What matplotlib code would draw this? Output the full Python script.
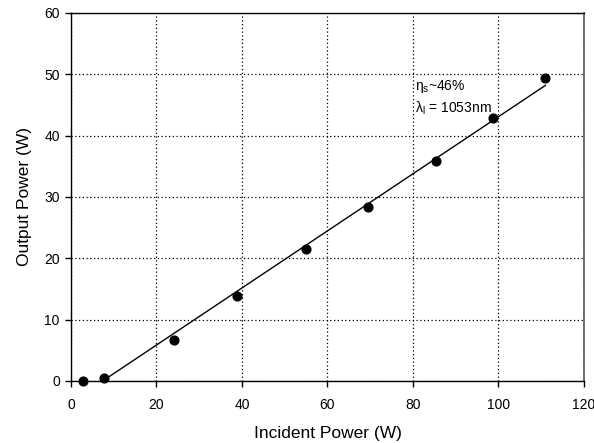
import numpy as np
from matplotlib import pyplot as plt

plt.rcParams["font.family"] = ["Liberation Sans", "DejaVu Sans"]

# measured points
incident_power = [2.8, 7.7, 24.1, 38.8, 55.0, 69.5, 85.4, 98.7, 110.9]
output_power = [0.0, 0.5, 6.7, 13.8, 21.5, 28.3, 35.8, 42.9, 49.4]

# linear fit drawn on the chart
fit_x = [8.7, 111.0]
fit_y = [0.6, 48.2]

x_ticks = [0, 20, 40, 60, 80, 100, 120]
y_ticks = [0, 10, 20, 30, 40, 50, 60]

fig = plt.figure(figsize=(5.94, 4.43), dpi=100)
ax = fig.add_axes([0.1195, 0.14, 0.8635, 0.8307])

ax.plot(fit_x, fit_y, color="black", linewidth=1.0)
ax.plot(incident_power, output_power, "o", color="black", markersize=6.3, clip_on=False)

ax.set_xlim(0, 120)
ax.set_ylim(0, 60)
ax.set_xticks(x_ticks)
ax.set_yticks(y_ticks)
ax.grid(True, color="black", linestyle=(0, (1, 2)), linewidth=0.9)
ax.tick_params(direction="out", length=4, width=1, labelsize=10, colors="black")
ax.tick_params(axis="x", pad=8.5)
ax.tick_params(axis="y", pad=4)
for side in ["left", "bottom", "top"]:
    ax.spines[side].set_linewidth(1.0)
ax.spines["right"].set_color("#555555")
ax.spines["right"].set_linewidth(1.2)

ax.set_xlabel("Incident Power (W)", fontsize=12.5, labelpad=10)
ax.set_ylabel("Output Power (W)", fontsize=12.5, labelpad=9)

ax.text(80.5, 48.0, r"$\mathregular{\eta_s}$~46%", fontsize=10, va="center")
ax.text(80.5, 44.4, r"$\mathregular{\lambda_l}$ = 1053nm", fontsize=10, va="center")

fig.savefig("out.png", dpi=100)
